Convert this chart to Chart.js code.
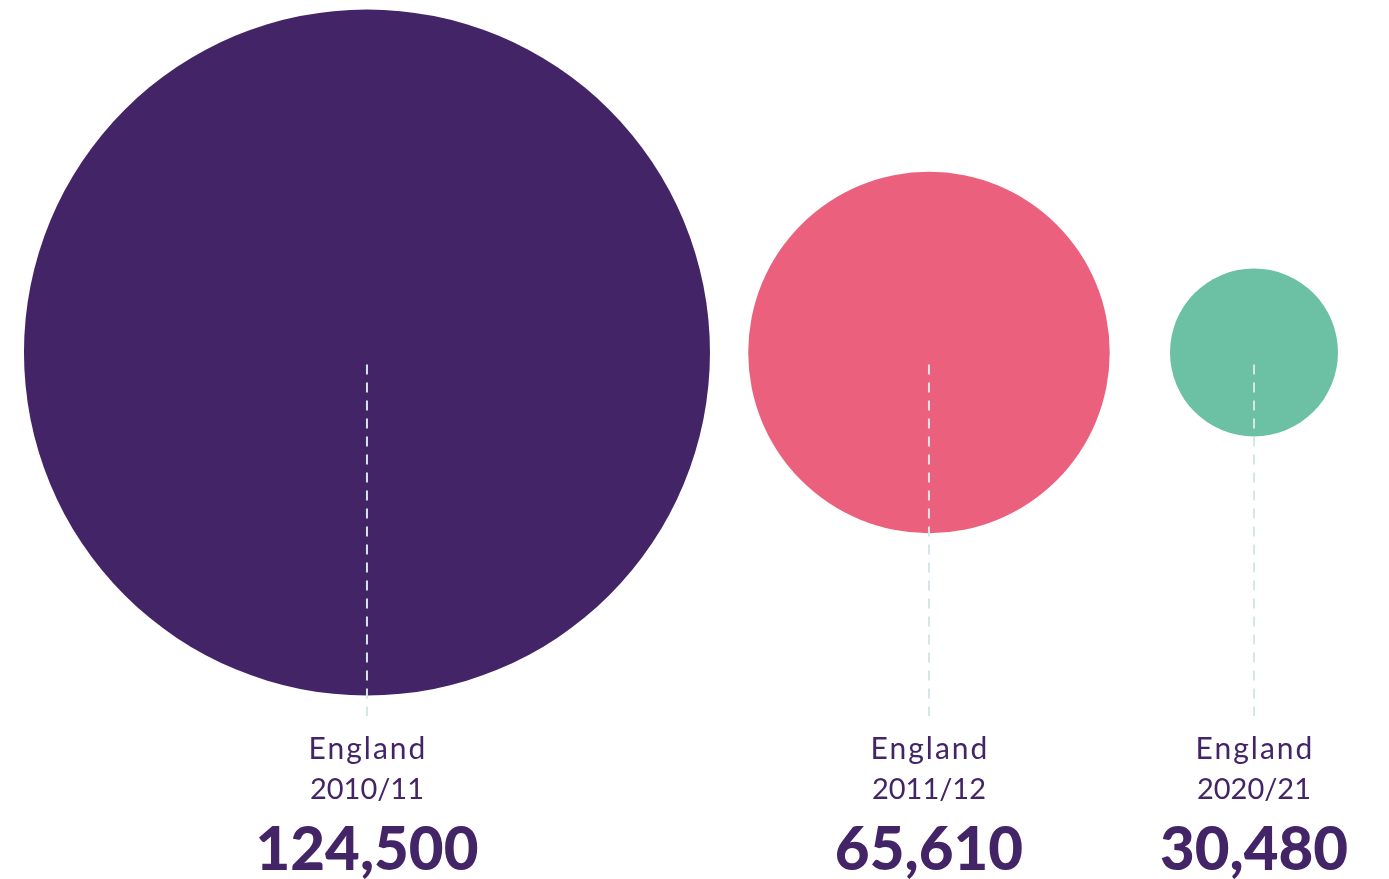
<!DOCTYPE html>
<html>
<head>
<meta charset="utf-8">
<script src="https://cdn.jsdelivr.net/npm/chart.js@4/dist/chart.umd.min.js"></script>
<style>
  html, body { margin: 0; padding: 0; background: #fff; }
  #wrap { width: 1389px; height: 879px; }
</style>
</head>
<body>
<div id="wrap"><canvas id="c"></canvas></div>
<script>
// data
const regions = ['England', 'England', 'England'];
const years = ['2010/11', '2011/12', '2020/21'];
const learners = [124500, 65610, 30480];
const colours = ['#432466', '#eb617d', '#6cc0a3'];

// layout
const xShare = [26.42, 66.88, 90.28];   // bubble centres, % of width
const midY = 59.9;                       // shared centre line, % of height
const pxPerLearner = 343 / 124500;       // bubble radius scale

const ink = '#432466';
const dashColour = '#d5e6e8';

const labelPlugin = {
  id: 'labels',
  afterDatasetsDraw(chart) {
    const ctx = chart.ctx;
    const meta = chart.getDatasetMeta(0);
    const bottom = chart.chartArea.bottom;
    ctx.save();
    meta.data.forEach((pt, i) => {
      // dashed stem
      ctx.strokeStyle = dashColour;
      ctx.lineWidth = 2;
      ctx.setLineDash([10, 8]);
      ctx.beginPath();
      ctx.moveTo(pt.x, pt.y + 12);
      ctx.lineTo(pt.x, bottom - 163);
      ctx.stroke();
      ctx.setLineDash([]);

      ctx.fillStyle = ink;
      ctx.textAlign = 'center';
      ctx.textBaseline = 'alphabetic';
      ctx.font = '400 30px Lato, "Open Sans", sans-serif';
      ctx.letterSpacing = '2px';
      ctx.fillText(regions[i], pt.x + 1, bottom - 120);
      ctx.letterSpacing = '0px';
      ctx.font = '400 29px Lato, "Open Sans", sans-serif';
      ctx.fillText(years[i], pt.x, bottom - 80);
      ctx.font = '900 60px Lato, "Open Sans", sans-serif';
      ctx.fillText(learners[i].toLocaleString('en-GB'), pt.x, bottom - 9);
    });
    ctx.restore();
  }
};

new Chart(document.getElementById('c'), {
  type: 'bubble',
  data: {
    datasets: [{
      data: learners.map((v, i) => ({ x: xShare[i], y: midY, r: v * pxPerLearner })),
      backgroundColor: colours,
      hoverBackgroundColor: colours,
      borderWidth: 0,
      hoverBorderWidth: 0,
      clip: false
    }]
  },
  options: {
    responsive: true,
    maintainAspectRatio: false,
    animation: false,
    layout: { padding: 0, autoPadding: false },
    scales: {
      x: { type: 'linear', min: 0, max: 100, display: false },
      y: { type: 'linear', min: 0, max: 100, display: false }
    },
    plugins: {
      legend: { display: false },
      tooltip: { enabled: false }
    },
    events: []
  },
  plugins: [labelPlugin]
});
</script>
</body>
</html>
